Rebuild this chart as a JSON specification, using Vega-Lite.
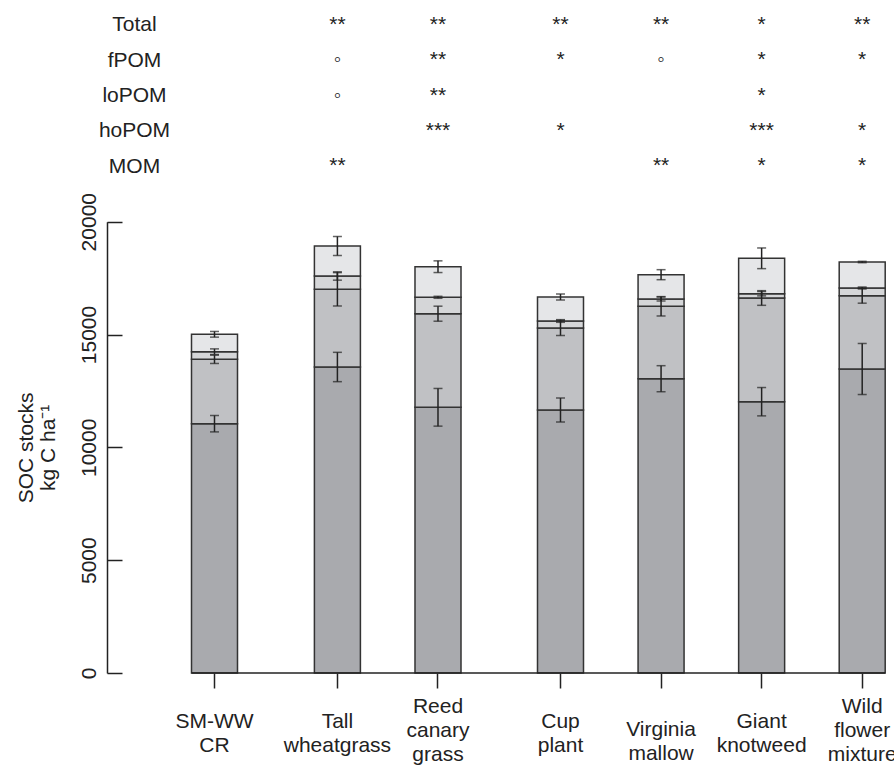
{
  "$schema": "https://vega.github.io/schema/vega-lite/v6.json",
  "width": 778.2,
  "height": 673,
  "autosize": {"type": "none"},
  "padding": {"left": 107, "top": 0, "right": 8.8, "bottom": 92},
  "config": {
    "font": "Liberation Sans",
    "view": {"stroke": null},
    "axis": {"labelFont": "Liberation Sans", "titleFont": "Liberation Sans", "labelColor": "#222", "titleColor": "#222", "tickColor": "#222", "domainColor": "#222", "grid": false}
  },
  "datasets": {
    "soc": [
      {"treatment": "SM-WW CR", "group": "reference", "fraction": "MOM", "value": 11048, "se": 363},
      {"treatment": "SM-WW CR", "group": "reference", "fraction": "hoPOM", "value": 2854, "se": 185},
      {"treatment": "SM-WW CR", "group": "reference", "fraction": "loPOM", "value": 337, "se": 125},
      {"treatment": "SM-WW CR", "group": "reference", "fraction": "fPOM", "value": 771, "se": 126},
      {"treatment": "Tall wheatgrass", "group": "grass", "fraction": "MOM", "value": 13561, "se": 650},
      {"treatment": "Tall wheatgrass", "group": "grass", "fraction": "hoPOM", "value": 3443, "se": 739},
      {"treatment": "Tall wheatgrass", "group": "grass", "fraction": "loPOM", "value": 590, "se": 185},
      {"treatment": "Tall wheatgrass", "group": "grass", "fraction": "fPOM", "value": 1329, "se": 421},
      {"treatment": "Reed canary grass", "group": "grass", "fraction": "MOM", "value": 11775, "se": 835},
      {"treatment": "Reed canary grass", "group": "grass", "fraction": "hoPOM", "value": 4148, "se": 333},
      {"treatment": "Reed canary grass", "group": "grass", "fraction": "loPOM", "value": 727, "se": 44},
      {"treatment": "Reed canary grass", "group": "grass", "fraction": "fPOM", "value": 1356, "se": 259},
      {"treatment": "Cup plant", "group": "forb", "fraction": "MOM", "value": 11655, "se": 532},
      {"treatment": "Cup plant", "group": "forb", "fraction": "hoPOM", "value": 3635, "se": 333},
      {"treatment": "Cup plant", "group": "forb", "fraction": "loPOM", "value": 310, "se": 59},
      {"treatment": "Cup plant", "group": "forb", "fraction": "fPOM", "value": 1063, "se": 133},
      {"treatment": "Virginia mallow", "group": "forb", "fraction": "MOM", "value": 13042, "se": 577},
      {"treatment": "Virginia mallow", "group": "forb", "fraction": "hoPOM", "value": 3209, "se": 429},
      {"treatment": "Virginia mallow", "group": "forb", "fraction": "loPOM", "value": 324, "se": 89},
      {"treatment": "Virginia mallow", "group": "forb", "fraction": "fPOM", "value": 1077, "se": 222},
      {"treatment": "Giant knotweed", "group": "forb", "fraction": "MOM", "value": 12023, "se": 628},
      {"treatment": "Giant knotweed", "group": "forb", "fraction": "hoPOM", "value": 4596, "se": 325},
      {"treatment": "Giant knotweed", "group": "forb", "fraction": "loPOM", "value": 190, "se": 96},
      {"treatment": "Giant knotweed", "group": "forb", "fraction": "fPOM", "value": 1569, "se": 458},
      {"treatment": "Wild flower mixture", "group": "forb", "fraction": "MOM", "value": 13472, "se": 1131},
      {"treatment": "Wild flower mixture", "group": "forb", "fraction": "hoPOM", "value": 3249, "se": 332},
      {"treatment": "Wild flower mixture", "group": "forb", "fraction": "loPOM", "value": 341, "se": 44},
      {"treatment": "Wild flower mixture", "group": "forb", "fraction": "fPOM", "value": 1152, "se": 30}
    ],
    "sig": [
      {"treatment": "Tall wheatgrass", "group": "grass", "row": "Total", "sig": "**"},
      {"treatment": "Tall wheatgrass", "group": "grass", "row": "fPOM", "sig": "◦"},
      {"treatment": "Tall wheatgrass", "group": "grass", "row": "loPOM", "sig": "◦"},
      {"treatment": "Tall wheatgrass", "group": "grass", "row": "MOM", "sig": "**"},
      {"treatment": "Reed canary grass", "group": "grass", "row": "Total", "sig": "**"},
      {"treatment": "Reed canary grass", "group": "grass", "row": "fPOM", "sig": "**"},
      {"treatment": "Reed canary grass", "group": "grass", "row": "loPOM", "sig": "**"},
      {"treatment": "Reed canary grass", "group": "grass", "row": "hoPOM", "sig": "***"},
      {"treatment": "Cup plant", "group": "forb", "row": "Total", "sig": "**"},
      {"treatment": "Cup plant", "group": "forb", "row": "fPOM", "sig": "*"},
      {"treatment": "Cup plant", "group": "forb", "row": "hoPOM", "sig": "*"},
      {"treatment": "Virginia mallow", "group": "forb", "row": "Total", "sig": "**"},
      {"treatment": "Virginia mallow", "group": "forb", "row": "fPOM", "sig": "◦"},
      {"treatment": "Virginia mallow", "group": "forb", "row": "MOM", "sig": "**"},
      {"treatment": "Giant knotweed", "group": "forb", "row": "Total", "sig": "*"},
      {"treatment": "Giant knotweed", "group": "forb", "row": "fPOM", "sig": "*"},
      {"treatment": "Giant knotweed", "group": "forb", "row": "loPOM", "sig": "*"},
      {"treatment": "Giant knotweed", "group": "forb", "row": "hoPOM", "sig": "***"},
      {"treatment": "Giant knotweed", "group": "forb", "row": "MOM", "sig": "*"},
      {"treatment": "Wild flower mixture", "group": "forb", "row": "Total", "sig": "**"},
      {"treatment": "Wild flower mixture", "group": "forb", "row": "fPOM", "sig": "*"},
      {"treatment": "Wild flower mixture", "group": "forb", "row": "hoPOM", "sig": "*"},
      {"treatment": "Wild flower mixture", "group": "forb", "row": "MOM", "sig": "*"}
    ],
    "rank": [
      {"fraction": "MOM", "rank": 1},
      {"fraction": "hoPOM", "rank": 2},
      {"fraction": "loPOM", "rank": 3},
      {"fraction": "fPOM", "rank": 4}
    ]
  },
  "resolve": {"scale": {"x": "independent", "y": "independent"}},
  "layer": [
    {
      "data": {"name": "soc"},
      "transform": [
        {"filter": {"field": "group", "equal": "reference"}},
        {"lookup": "fraction", "from": {"data": {"name": "rank"}, "key": "fraction", "fields": ["rank"]}}
      ],
      "mark": {"type": "bar", "stroke": "#333", "strokeWidth": 1.5},
      "encoding": {
        "x": {"field": "treatment", "type": "nominal",
          "scale": {"type": "band", "domain": ["SM-WW CR"], "range": [84.5, 130.5], "paddingInner": 0, "paddingOuter": 0, "round": false},
          "axis": {"orient": "bottom", "title": null, "domain": false, "tickSize": 15, "tickWidth": 1.5, "labelExpr": "split(datum.label, ' ')", "labelFontSize": 21, "labelLineHeight": 24, "labelBaseline": "top",
            "labelPadding": {"condition": [{"test": "length(split(datum.label, ' ')) > 2", "value": 7.3}, {"test": "datum.label === 'Virginia mallow'", "value": 30}], "value": 22.7},
            "labelAngle": 0, "labelOverlap": false, "labelBound": false, "labelFlush": false}},
        "y": {"field": "value", "type": "quantitative", "stack": "zero",
          "scale": {"domain": [0, 20000], "range": [673, 221.7], "nice": false, "zero": false},
          "axis": {"orient": "left", "title": ["SOC stocks", "kg C ha⁻¹"], "values": [0, 5000, 10000, 15000, 20000], "format": "d", "tickSize": -15, "tickWidth": 1.5, "domainWidth": 1.5, "labelAngle": -90, "labelAlign": "center", "labelBaseline": "alphabetic", "labelPadding": 27, "labelFontSize": 21, "titleFontSize": 21, "titleFontWeight": "normal", "titleLineHeight": 22, "titlePadding": 20}},
        "color": {"field": "fraction", "type": "nominal",
          "scale": {"domain": ["MOM", "hoPOM", "loPOM", "fPOM"], "range": ["#a9aaae", "#c0c1c4", "#d5d6d8", "#e5e6e8"]}, "legend": null},
        "order": {"field": "rank", "type": "quantitative", "sort": "ascending"}
      }
    },
    {
      "data": {"name": "soc"},
      "transform": [
        {"filter": {"field": "group", "equal": "reference"}},
        {"lookup": "fraction", "from": {"data": {"name": "rank"}, "key": "fraction", "fields": ["rank"]}},
        {"stack": "value", "groupby": ["treatment"], "sort": [{"field": "rank", "order": "ascending"}], "as": ["v0", "v1"]}
      ],
      "mark": {"type": "errorbar", "color": "#222", "thickness": 1.5, "ticks": {"size": 9}},
      "encoding": {
        "x": {"field": "treatment", "type": "nominal",
          "scale": {"type": "band", "domain": ["SM-WW CR"], "range": [84.5, 130.5], "paddingInner": 0, "paddingOuter": 0, "round": false}, "axis": null},
        "y": {"field": "v1", "type": "quantitative", "scale": {"domain": [0, 20000], "range": [673, 221.7], "nice": false, "zero": false}, "axis": null},
        "yError": {"field": "se"}
      }
    },
    {
      "data": {"name": "soc"},
      "transform": [
        {"filter": {"field": "group", "equal": "grass"}},
        {"lookup": "fraction", "from": {"data": {"name": "rank"}, "key": "fraction", "fields": ["rank"]}}
      ],
      "mark": {"type": "bar", "stroke": "#333", "strokeWidth": 1.5},
      "encoding": {
        "x": {"field": "treatment", "type": "nominal",
          "scale": {"type": "band", "domain": ["Tall wheatgrass", "Reed canary grass"], "range": [207.4, 354], "paddingInner": 0.54261, "paddingOuter": 0, "round": false},
          "axis": {"orient": "bottom", "title": null, "domain": false, "tickSize": 15, "tickWidth": 1.5, "labelExpr": "split(datum.label, ' ')", "labelFontSize": 21, "labelLineHeight": 24, "labelBaseline": "top",
            "labelPadding": {"condition": [{"test": "length(split(datum.label, ' ')) > 2", "value": 7.3}, {"test": "datum.label === 'Virginia mallow'", "value": 30}], "value": 22.7},
            "labelAngle": 0, "labelOverlap": false, "labelBound": false, "labelFlush": false}},
        "y": {"field": "value", "type": "quantitative", "stack": "zero",
          "scale": {"domain": [0, 20000], "range": [673, 221.7], "nice": false, "zero": false}, "axis": null},
        "color": {"field": "fraction", "type": "nominal",
          "scale": {"domain": ["MOM", "hoPOM", "loPOM", "fPOM"], "range": ["#a9aaae", "#c0c1c4", "#d5d6d8", "#e5e6e8"]}, "legend": null},
        "order": {"field": "rank", "type": "quantitative", "sort": "ascending"}
      }
    },
    {
      "data": {"name": "soc"},
      "transform": [
        {"filter": {"field": "group", "equal": "grass"}},
        {"lookup": "fraction", "from": {"data": {"name": "rank"}, "key": "fraction", "fields": ["rank"]}},
        {"stack": "value", "groupby": ["treatment"], "sort": [{"field": "rank", "order": "ascending"}], "as": ["v0", "v1"]}
      ],
      "mark": {"type": "errorbar", "color": "#222", "thickness": 1.5, "ticks": {"size": 9}},
      "encoding": {
        "x": {"field": "treatment", "type": "nominal",
          "scale": {"type": "band", "domain": ["Tall wheatgrass", "Reed canary grass"], "range": [207.4, 354], "paddingInner": 0.54261, "paddingOuter": 0, "round": false}, "axis": null},
        "y": {"field": "v1", "type": "quantitative", "scale": {"domain": [0, 20000], "range": [673, 221.7], "nice": false, "zero": false}, "axis": null},
        "yError": {"field": "se"}
      }
    },
    {
      "data": {"name": "sig"},
      "transform": [{"filter": {"field": "group", "equal": "grass"}}],
      "mark": {"type": "text", "fontSize": 21, "color": "#222", "baseline": "alphabetic", "align": "center"},
      "encoding": {
        "x": {"field": "treatment", "type": "nominal",
          "scale": {"type": "band", "domain": ["Tall wheatgrass", "Reed canary grass"], "range": [207.4, 354], "paddingInner": 0.54261, "paddingOuter": 0, "round": false}, "axis": null},
        "y": {"field": "row", "type": "nominal",
          "scale": {"type": "point", "domain": ["Total", "fPOM", "loPOM", "hoPOM", "MOM"], "range": [30.7, 172.3], "padding": 0},
          "axis": {"orient": "left", "title": null, "domain": false, "ticks": false, "labelAlign": "center", "labelBaseline": "alphabetic", "labelPadding": -27, "labelFontSize": 21, "labelAngle": 0}},
        "text": {"field": "sig"}
      }
    },
    {
      "data": {"name": "soc"},
      "transform": [
        {"filter": {"field": "group", "equal": "forb"}},
        {"lookup": "fraction", "from": {"data": {"name": "rank"}, "key": "fraction", "fields": ["rank"]}}
      ],
      "mark": {"type": "bar", "stroke": "#333", "strokeWidth": 1.5},
      "encoding": {
        "x": {"field": "treatment", "type": "nominal",
          "scale": {"type": "band", "domain": ["Cup plant", "Virginia mallow", "Giant knotweed", "Wild flower mixture"], "range": [430.5, 778.2], "paddingInner": 0.54261, "paddingOuter": 0, "round": false},
          "axis": {"orient": "bottom", "title": null, "domain": false, "tickSize": 15, "tickWidth": 1.5, "labelExpr": "split(datum.label, ' ')", "labelFontSize": 21, "labelLineHeight": 24, "labelBaseline": "top",
            "labelPadding": {"condition": [{"test": "length(split(datum.label, ' ')) > 2", "value": 7.3}, {"test": "datum.label === 'Virginia mallow'", "value": 30}], "value": 22.7},
            "labelAngle": 0, "labelOverlap": false, "labelBound": false, "labelFlush": false}},
        "y": {"field": "value", "type": "quantitative", "stack": "zero",
          "scale": {"domain": [0, 20000], "range": [673, 221.7], "nice": false, "zero": false}, "axis": null},
        "color": {"field": "fraction", "type": "nominal",
          "scale": {"domain": ["MOM", "hoPOM", "loPOM", "fPOM"], "range": ["#a9aaae", "#c0c1c4", "#d5d6d8", "#e5e6e8"]}, "legend": null},
        "order": {"field": "rank", "type": "quantitative", "sort": "ascending"}
      }
    },
    {
      "data": {"name": "soc"},
      "transform": [
        {"filter": {"field": "group", "equal": "forb"}},
        {"lookup": "fraction", "from": {"data": {"name": "rank"}, "key": "fraction", "fields": ["rank"]}},
        {"stack": "value", "groupby": ["treatment"], "sort": [{"field": "rank", "order": "ascending"}], "as": ["v0", "v1"]}
      ],
      "mark": {"type": "errorbar", "color": "#222", "thickness": 1.5, "ticks": {"size": 9}},
      "encoding": {
        "x": {"field": "treatment", "type": "nominal",
          "scale": {"type": "band", "domain": ["Cup plant", "Virginia mallow", "Giant knotweed", "Wild flower mixture"], "range": [430.5, 778.2], "paddingInner": 0.54261, "paddingOuter": 0, "round": false}, "axis": null},
        "y": {"field": "v1", "type": "quantitative", "scale": {"domain": [0, 20000], "range": [673, 221.7], "nice": false, "zero": false}, "axis": null},
        "yError": {"field": "se"}
      }
    },
    {
      "data": {"name": "sig"},
      "transform": [{"filter": {"field": "group", "equal": "forb"}}],
      "mark": {"type": "text", "fontSize": 21, "color": "#222", "baseline": "alphabetic", "align": "center"},
      "encoding": {
        "x": {"field": "treatment", "type": "nominal",
          "scale": {"type": "band", "domain": ["Cup plant", "Virginia mallow", "Giant knotweed", "Wild flower mixture"], "range": [430.5, 778.2], "paddingInner": 0.54261, "paddingOuter": 0, "round": false}, "axis": null},
        "y": {"field": "row", "type": "nominal",
          "scale": {"type": "point", "domain": ["Total", "fPOM", "loPOM", "hoPOM", "MOM"], "range": [30.7, 172.3], "padding": 0}, "axis": null},
        "text": {"field": "sig"}
      }
    },
    {
      "data": {"values": [{}]},
      "mark": {"type": "rule", "color": "#222", "strokeWidth": 1.5},
      "encoding": {
        "x": {"datum": "SM-WW CR", "type": "nominal", "bandPosition": 0,
          "scale": {"type": "band", "domain": ["SM-WW CR"], "range": [84.5, 130.5], "paddingInner": 0, "paddingOuter": 0, "round": false}, "axis": null},
        "x2": {"value": "width"},
        "y": {"datum": 0, "type": "quantitative", "scale": {"domain": [0, 20000], "range": [673, 221.7], "nice": false, "zero": false}, "axis": null}
      }
    }
  ]
}
